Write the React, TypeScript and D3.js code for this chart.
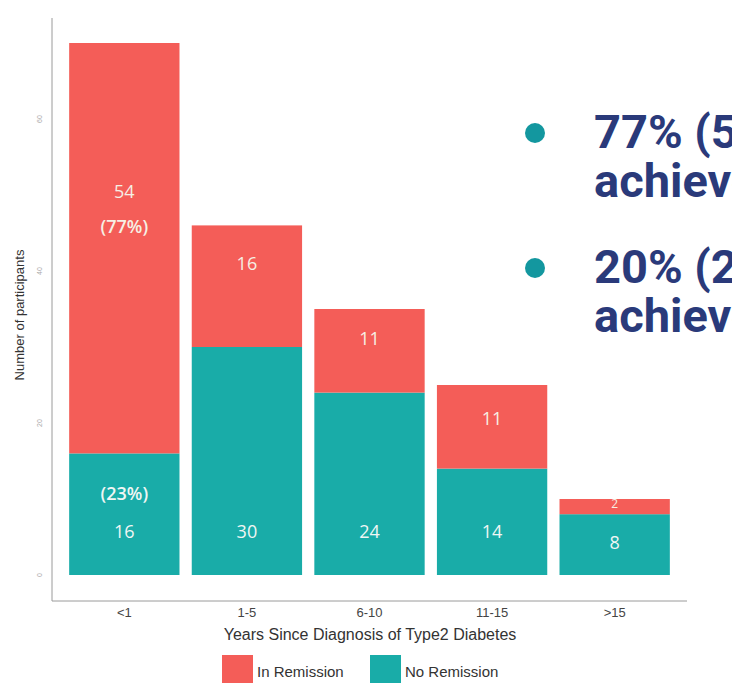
import React from "react";
import * as d3 from "d3";

const categories = ["<1", "1-5", "6-10", "11-15", ">15"];
const inRemission = [54, 16, 11, 11, 2];
const noRemission = [16, 30, 24, 14, 8];
const remissionLabels = [["54", "(77%)"], ["16"], ["11"], ["11"], ["2"]];
const noRemissionLabels = [["(23%)", "16"], ["30"], ["24"], ["14"], ["8"]];
// label anchor values (data units)
const remissionLabelY = [50.3, 40.8, 30.9, 20.4, 9.2];
const noRemissionLabelY = [5.5, 5.5, 5.5, 5.5, 4.1];
const yTicks = [0, 20, 40, 60];
const bullets = [
  ["77% (54/70)", "achieved remission"],
  ["20% (2/10)", "achieved remission"],
];
const legendItems = ["In Remission", "No Remission"];

const RED = "#F45D58";
const TEAL = "#19ACA8";

export default function App() {
  const x = d3
    .scaleBand<string>()
    .domain(categories)
    .range([52, 687])
    .paddingInner(0.1)
    .paddingOuter(0.14);
  const y = d3.scaleLinear().domain([0, 20]).range([575, 423]);
  const bw = x.bandwidth();

  return (
    <svg
      width={732}
      height={683}
      style={{ position: "absolute", left: 0, top: 0, background: "#fff" }}
    >
      {/* axes */}
      <line x1={52} x2={52} y1={18} y2={601} stroke="#9a9a9a" strokeWidth={1} />
      <line x1={52} x2={687} y1={601} y2={601} stroke="#9a9a9a" strokeWidth={1} />
      {yTicks.map((t) => (
        <text
          key={t}
          x={42}
          y={y(t)}
          fontSize={7}
          fill="#aaa"
          textAnchor="middle"
          fontFamily="Liberation Sans, Arial, sans-serif"
          transform={`rotate(-90 42 ${y(t)})`}
        >
          {t}
        </text>
      ))}
      <text
        x={0}
        y={0}
        transform="translate(24 315) rotate(-90)"
        textAnchor="middle"
        fontSize={13}
        fill="#333"
        fontFamily="Liberation Sans, Arial, sans-serif"
      >
        Number of participants
      </text>

      {/* bars */}
      {categories.map((c, i) => {
        const x0 = x(c)!;
        const cx = x0 + bw / 2;
        const nr = noRemission[i];
        const tot = nr + inRemission[i];
        return (
          <g key={c}>
            <rect x={x0} y={y(nr)} width={bw} height={y(0) - y(nr)} fill={TEAL} />
            <rect x={x0} y={y(tot)} width={bw} height={y(nr) - y(tot)} fill={RED} />
            {remissionLabels[i].map((s, k) => (
              <text
                key={"r" + k}
                x={cx}
                y={y(remissionLabelY[i]) + k * 35}
                textAnchor="middle"
                dominantBaseline="middle"
                fontSize={i === 4 ? 12 : 18}
                fill="#f6efe4"
                fontFamily="Open Sans, sans-serif"
                fontWeight={k === 1 ? 600 : 400}
              >
                {s}
              </text>
            ))}
            {noRemissionLabels[i].map((s, k) => {
              const n = noRemissionLabels[i].length;
              return (
                <text
                  key={"n" + k}
                  x={cx}
                  y={y(noRemissionLabelY[i]) - (n - 1 - k) * 38}
                  textAnchor="middle"
                  dominantBaseline="middle"
                  fontSize={18}
                  fill="#f0f6f4"
                  fontFamily="Open Sans, sans-serif"
                  fontWeight={s.startsWith("(") ? 600 : 400}
                >
                  {s}
                </text>
              );
            })}
            <text
              x={cx}
              y={617}
              textAnchor="middle"
              fontSize={13}
              fill="#444"
              fontFamily="Liberation Sans, Arial, sans-serif"
            >
              {c}
            </text>
          </g>
        );
      })}

      <text
        x={370}
        y={640}
        textAnchor="middle"
        fontSize={16}
        fill="#333"
        fontFamily="Liberation Sans, Arial, sans-serif"
      >
        Years Since Diagnosis of Type2 Diabetes
      </text>

      {/* legend */}
      {legendItems.map((l, i) => {
        const lx = i === 0 ? 222 : 370;
        return (
          <g key={l}>
            <rect x={lx} y={655} width={31} height={28} fill={i === 0 ? RED : TEAL} />
            <text
              x={lx + 35}
              y={677}
              fontSize={15}
              fill="#333"
              fontFamily="Liberation Sans, Arial, sans-serif"
            >
              {l}
            </text>
          </g>
        );
      })}

      {/* bullets */}
      {bullets.map((b, i) => {
        const by = 133 + i * 135;
        return (
          <g key={i}>
            <circle cx={535} cy={by} r={10} fill="#13979F" />
            {b.map((s, k) => (
              <text
                key={k}
                x={594}
                y={by + 15 + k * 49}
                fontSize={47}
                fontWeight={700}
                fill="#2A3A7A"
                fontFamily="Roboto, sans-serif"
              >
                {s}
              </text>
            ))}
          </g>
        );
      })}
    </svg>
  );
}
